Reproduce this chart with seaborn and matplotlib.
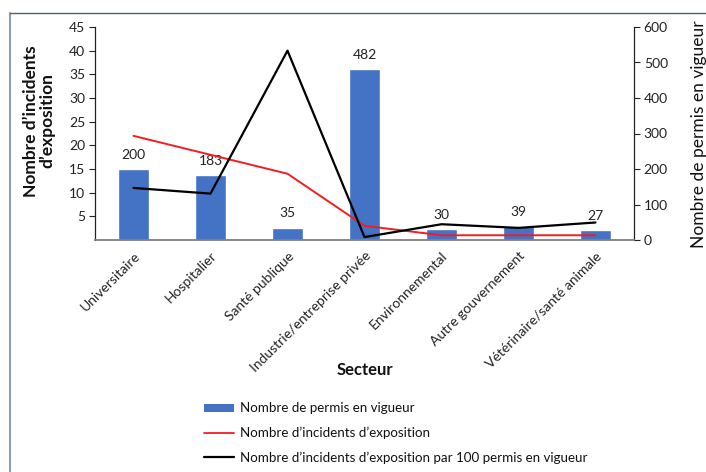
import matplotlib
matplotlib.use("Agg")
import matplotlib.pyplot as plt
from matplotlib.lines import Line2D
from matplotlib.patches import Patch
import seaborn as sns
import pandas as pd

categories = ["Universitaire", "Hospitalier", "Santé publique",
              "Industrie/entreprise privée", "Environnemental",
              "Autre gouvernement", "Vétérinaire/santé animale"]
permis = [200, 183, 35, 482, 30, 39, 27]
incidents = [22, 18, 14, 3, 1, 1, 1]
incidents_100 = [11.0, 9.8, 40.0, 0.62, 3.33, 2.56, 3.7]
left_ticks = [5, 10, 15, 20, 25, 30, 35, 40, 45]
right_ticks = [0, 100, 200, 300, 400, 500, 600]

sns.set_theme(style="white")
plt.rcParams["font.family"] = ["Lato", "DejaVu Sans"]

df = pd.DataFrame({"Secteur": categories, "permis": permis,
                   "incidents": incidents, "inc100": incidents_100})

W, H = 706, 472
fig = plt.figure(figsize=(W / 100, H / 100), dpi=100)
ax = fig.add_axes([95 / W, 1 - 240 / H, (634 - 95) / W, (240 - 27) / H])
ax2 = ax.twinx()

blue = "#4472C4"
red = "#F41C22"

# bars on the right (permits) axis
sns.barplot(data=df, x="Secteur", y="permis", color=blue, width=0.4,
            saturation=1, ax=ax2)
ax2.bar_label(ax2.containers[0], fontsize=10, padding=6, color="#222222")

# lines on the left (incidents) axis, drawn on top
sns.pointplot(data=df, x="Secteur", y="incidents", color=red, markers="",
              linewidth=1.4, ax=ax)
sns.pointplot(data=df, x="Secteur", y="inc100", color="black", markers="",
              linewidth=1.6, ax=ax)
ax.set_zorder(ax2.get_zorder() + 1)
ax.patch.set_visible(False)

ax.set_xlim(-0.5, 6.5)
ax.set_ylim(0, 45)
ax2.set_ylim(0, 600)
ax.set_yticks(left_ticks)
ax2.set_yticks(right_ticks)
ax.tick_params(axis="y", labelsize=10, length=4, direction="out", left=True,
               width=0.8, colors="#222222", pad=3)
ax2.tick_params(axis="y", labelsize=10, length=4, direction="out", right=True,
                width=0.8, colors="#222222", pad=3)
ax.set_xticks(range(len(categories)))
ax.set_xticklabels(categories, rotation=45, ha="right", rotation_mode="anchor",
                   fontsize=10, color="#222222")
ax.tick_params(axis="x", length=0, pad=7)
ax2.tick_params(axis="x", length=0)

for a in (ax, ax2):
    a.spines["top"].set_visible(False)
    a.grid(False)
ax.spines["right"].set_visible(False)
ax.spines["left"].set_color("#222222")
ax.spines["left"].set_linewidth(0.9)
ax2.spines["right"].set_color("#222222")
ax2.spines["right"].set_linewidth(0.9)
ax2.spines["left"].set_visible(False)
ax.spines["bottom"].set_color("#7f7f7f")
ax.spines["bottom"].set_linewidth(1.3)
ax2.spines["bottom"].set_visible(False)

ax.set_xlabel("")
ax2.set_xlabel("")
ax.set_ylabel("")
ax2.set_ylabel("")

fig.text(39 / W, 1 - 121 / H, "Nombre d\u2019incidents\nd\u2019exposition",
         rotation=90, ha="center", va="center", fontsize=12.5,
         fontweight="bold", color="#111111", linespacing=1.05)
fig.text(699 / W, 1 - 134 / H, "Nombre de permis en vigueur", rotation=90,
         ha="center", va="center", fontsize=12.5, color="#111111")
fig.text(365 / W, 1 - 370 / H, "Secteur", ha="center", va="center",
         fontsize=12, fontweight="bold", color="#111111")

handles = [Patch(facecolor=blue, edgecolor="none"),
           Line2D([], [], color=red, lw=1.3),
           Line2D([], [], color="black", lw=1.6)]
labels = ["Nombre de permis en vigueur",
          "Nombre d\u2019incidents d\u2019exposition",
          "Nombre d\u2019incidents d\u2019exposition par 100 permis en vigueur"]
leg = fig.legend(handles, labels, loc="upper left",
                 bbox_to_anchor=(199 / W, 1 - 397 / H), frameon=False,
                 fontsize=9.6, handlelength=2.2, handleheight=0.55,
                 labelspacing=0.92, handletextpad=0.45, borderaxespad=0)
for t in leg.get_texts():
    t.set_color("#111111")

frame_c = "#8f9dab"
fig.add_artist(Line2D([9.5 / W, 9.5 / W], [0, 1 - 12.5 / H], color=frame_c,
                      lw=1.5, transform=fig.transFigure))
fig.add_artist(Line2D([9.5 / W, 1], [1 - 12.5 / H, 1 - 12.5 / H],
                      color="#4f6273", lw=1.0, transform=fig.transFigure))

fig.savefig("out.png", dpi=100)
